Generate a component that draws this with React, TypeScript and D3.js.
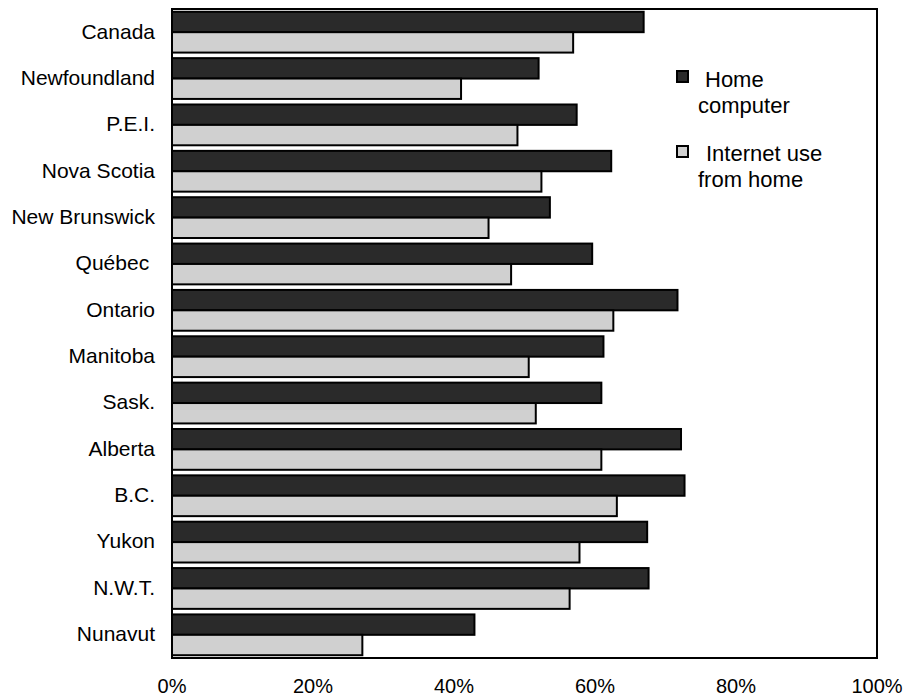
import React from "react";
import * as d3 from "d3";

const categories = [
  "Canada",
  "Newfoundland",
  "P.E.I.",
  "Nova Scotia",
  "New Brunswick",
  "Québec ",
  "Ontario",
  "Manitoba",
  "Sask.",
  "Alberta",
  "B.C.",
  "Yukon",
  "N.W.T.",
  "Nunavut",
];
const homeComputer = [66.9, 52.0, 57.4, 62.3, 53.6, 59.6, 71.7, 61.2, 60.9, 72.2, 72.7, 67.4, 67.6, 42.9];
const internetUse = [56.9, 41.0, 49.0, 52.4, 44.9, 48.1, 62.6, 50.6, 51.6, 60.9, 63.1, 57.8, 56.4, 27.0];
const xTicks = [0, 20, 40, 60, 80, 100];
const seriesNames = ["Home computer", "Internet use from home"];

const W = 906;
const H = 698;
const left = 172;
const right = 877;
const top = 9;
const bottom = 658;
const FONT = "'Liberation Sans', Arial, Helvetica, sans-serif";

export default function App() {
  const x = d3.scaleLinear().domain([0, 100]).range([left, right]);
  const y = d3
    .scaleBand<string>()
    .domain(categories)
    .range([top, bottom])
    .paddingInner(0.12)
    .paddingOuter(0.06);
  const sub = d3
    .scaleBand<string>()
    .domain(seriesNames)
    .range([0, y.bandwidth()])
    .padding(0);
  const fills = ["#2a2a2a", "#d0d0d0"];
  const seriesData = [homeComputer, internetUse];

  return (
    <svg
      width={W}
      height={H}
      style={{ position: "absolute", left: 0, top: 0, fontFamily: FONT }}
    >
      <rect x={0} y={0} width={W} height={H} fill="#fff" />
      {seriesData.map((vals, si) =>
        categories.map((c, i) => (
          <rect
            key={`${si}-${i}`}
            x={x(0)}
            y={(y(c) as number) + (sub(seriesNames[si]) as number)}
            width={x(vals[i]) - x(0)}
            height={sub.bandwidth()}
            fill={fills[si]}
            stroke="#000"
            strokeWidth={2}
          />
        ))
      )}
      <rect
        x={left}
        y={top}
        width={right - left}
        height={bottom - top}
        fill="none"
        stroke="#000"
        strokeWidth={2}
      />
      {categories.map((c) => (
        <text
          key={c}
          x={155}
          y={(y(c) as number) + y.bandwidth() / 2 - 1}
          dy="0.35em"
          textAnchor="end"
          fontSize={21}
          fill="#000"
          style={{ whiteSpace: "pre" }}
        >
          {c}
        </text>
      ))}
      {xTicks.map((t) => (
        <text
          key={t}
          x={x(t)}
          y={693}
          textAnchor="middle"
          fontSize={20}
          fill="#000"
        >
          {t}%
        </text>
      ))}
      <g>
        <rect x={677} y={71} width={11} height={11} fill={fills[0]} stroke="#000" strokeWidth={2} />
        <text x={705} y={87} fontSize={22} fill="#000">Home</text>
        <text x={698} y={113} fontSize={22} fill="#000">computer</text>
        <rect x={677} y={146} width={11} height={11} fill={fills[1]} stroke="#000" strokeWidth={2} />
        <text x={706} y={161} fontSize={22} fill="#000">Internet use</text>
        <text x={698} y={187} fontSize={22} fill="#000">from home</text>
      </g>
    </svg>
  );
}
